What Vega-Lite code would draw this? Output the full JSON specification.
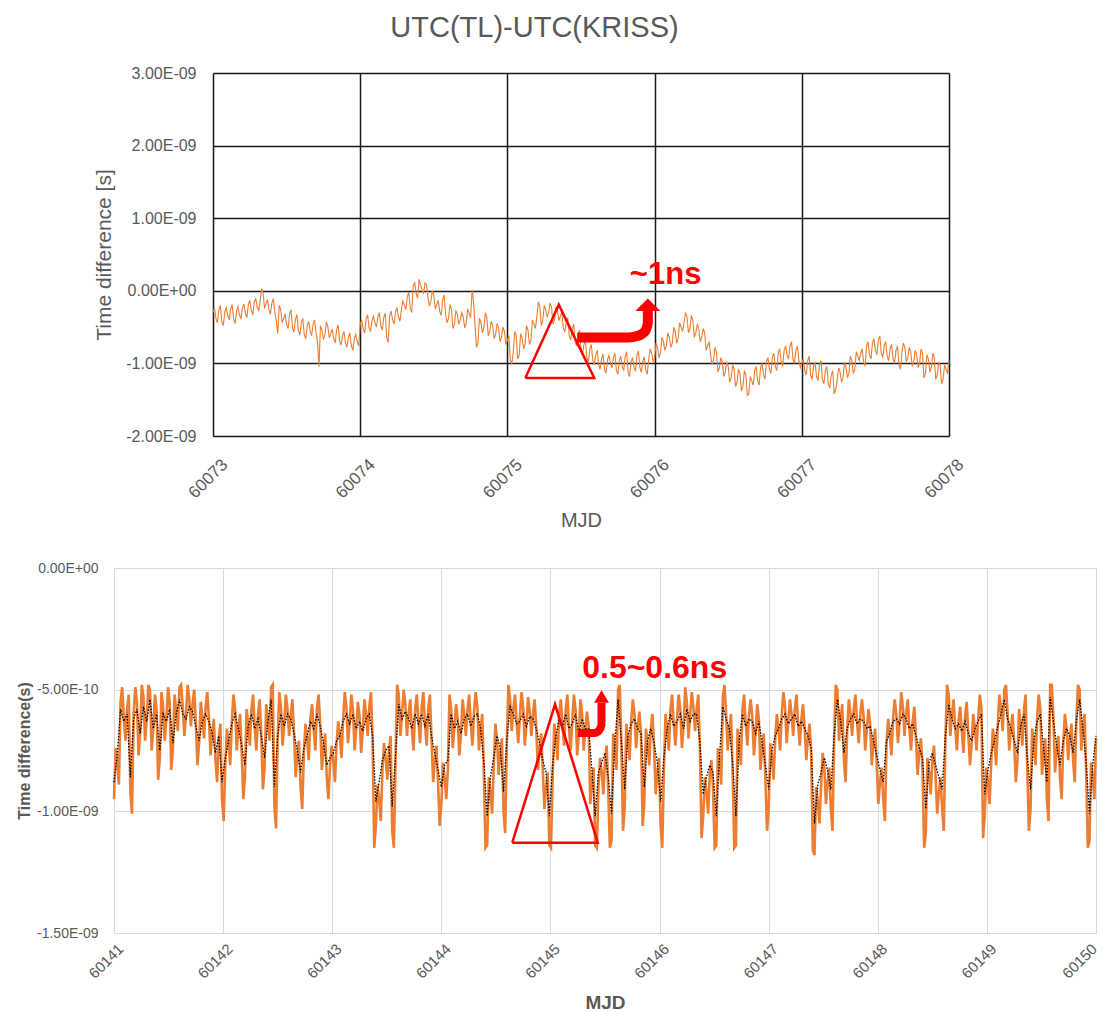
{
"$schema":"https://vega.github.io/schema/vega-lite/v6.json",
"background":"white",
"padding":{"left":16,"top":14,"right":0,"bottom":0},
"config":{"view":{"stroke":null},"font":"Liberation Sans"},
"bounds":"flush",
"spacing":132,
"datasets":{
"top":[
{"t":60073,"v":-3e-10},{"t":60073.02,"v":-3.8e-10},{"t":60073.04,"v":-2.6e-10},{"t":60073.06,"v":-4.2e-10},{"t":60073.08,"v":-2.9e-10},
{"t":60073.1,"v":-3.4e-10},{"t":60073.12,"v":-2.5e-10},{"t":60073.14,"v":-3.9e-10},{"t":60073.16,"v":-2.8e-10},{"t":60073.18,"v":-3.3e-10},
{"t":60073.2,"v":-2.4e-10},{"t":60073.22,"v":-3.1e-10},{"t":60073.24,"v":-1.9e-10},{"t":60073.26,"v":-2.7e-10},{"t":60073.28,"v":-1.6e-10},
{"t":60073.3,"v":-2.2e-10},{"t":60073.32,"v":-1.5e-10},{"t":60073.34,"v":-0.3e-10},{"t":60073.36,"v":-1.8e-10},{"t":60073.38,"v":-2.6e-10},
{"t":60073.4,"v":-1.7e-10},{"t":60073.42,"v":-3e-10},{"t":60073.44,"v":-5.9e-10},{"t":60073.46,"v":-2.6e-10},{"t":60073.48,"v":-3.8e-10},
{"t":60073.5,"v":-4.6e-10},{"t":60073.52,"v":-3.2e-10},{"t":60073.54,"v":-5.1e-10},{"t":60073.56,"v":-3.9e-10},{"t":60073.58,"v":-5.5e-10},
{"t":60073.6,"v":-4.4e-10},{"t":60073.62,"v":-6e-10},{"t":60073.64,"v":-4.8e-10},{"t":60073.66,"v":-5.6e-10},{"t":60073.68,"v":-4.6e-10},
{"t":60073.7,"v":-5.8e-10},{"t":60073.72,"v":-10.5e-10},{"t":60073.74,"v":-5.4e-10},{"t":60073.76,"v":-6.1e-10},{"t":60073.78,"v":-4.9e-10},
{"t":60073.8,"v":-5.9e-10},{"t":60073.82,"v":-6.6e-10},{"t":60073.84,"v":-5.3e-10},{"t":60073.86,"v":-6.9e-10},{"t":60073.88,"v":-6.2e-10},
{"t":60073.9,"v":-7.2e-10},{"t":60073.92,"v":-6.4e-10},{"t":60073.94,"v":-7.6e-10},{"t":60073.96,"v":-6.6e-10},{"t":60073.98,"v":-7e-10},
{"t":60074,"v":-4.6e-10},{"t":60074.02,"v":-5.2e-10},{"t":60074.04,"v":-3.9e-10},{"t":60074.06,"v":-5e-10},{"t":60074.08,"v":-4.1e-10},
{"t":60074.1,"v":-4.4e-10},{"t":60074.12,"v":-3.6e-10},{"t":60074.14,"v":-4.8e-10},{"t":60074.16,"v":-3.7e-10},{"t":60074.18,"v":-6.5e-10},
{"t":60074.2,"v":-3.4e-10},{"t":60074.22,"v":-4e-10},{"t":60074.24,"v":-2.9e-10},{"t":60074.26,"v":-3.6e-10},{"t":60074.28,"v":-2.5e-10},
{"t":60074.3,"v":-2e-10},{"t":60074.32,"v":-0.8e-10},{"t":60074.34,"v":-2.4e-10},{"t":60074.36,"v":0.6e-10},{"t":60074.38,"v":-0.4e-10},
{"t":60074.4,"v":1.6e-10},{"t":60074.42,"v":0.2e-10},{"t":60074.44,"v":1.1e-10},{"t":60074.46,"v":-0.8e-10},{"t":60074.48,"v":-1.5e-10},
{"t":60074.5,"v":-0.6e-10},{"t":60074.52,"v":-1.9e-10},{"t":60074.54,"v":-2.8e-10},{"t":60074.56,"v":-1.2e-10},{"t":60074.58,"v":-3.2e-10},
{"t":60074.6,"v":-3.8e-10},{"t":60074.62,"v":-2.5e-10},{"t":60074.64,"v":-4.6e-10},{"t":60074.66,"v":-3.3e-10},{"t":60074.68,"v":-4e-10},
{"t":60074.7,"v":-3.6e-10},{"t":60074.72,"v":-4.5e-10},{"t":60074.74,"v":-3.1e-10},{"t":60074.76,"v":0.1e-10},{"t":60074.78,"v":-4.8e-10},
{"t":60074.8,"v":-7.2e-10},{"t":60074.82,"v":-4.4e-10},{"t":60074.84,"v":-5.2e-10},{"t":60074.86,"v":-3.6e-10},{"t":60074.88,"v":-5.6e-10},
{"t":60074.9,"v":-4.8e-10},{"t":60074.92,"v":-6e-10},{"t":60074.94,"v":-5.1e-10},{"t":60074.96,"v":-6.4e-10},{"t":60074.98,"v":-5.6e-10},
{"t":60075,"v":-6.8e-10},{"t":60075.02,"v":-9.5e-10},{"t":60075.04,"v":-8.4e-10},{"t":60075.06,"v":-6.2e-10},{"t":60075.08,"v":-8.8e-10},
{"t":60075.1,"v":-6.5e-10},{"t":60075.12,"v":-7.4e-10},{"t":60075.14,"v":-5.4e-10},{"t":60075.16,"v":-6.8e-10},{"t":60075.18,"v":-4.6e-10},
{"t":60075.2,"v":-3.6e-10},{"t":60075.22,"v":-2.1e-10},{"t":60075.24,"v":-4.2e-10},{"t":60075.26,"v":-2.6e-10},{"t":60075.28,"v":-3e-10},
{"t":60075.3,"v":-2.3e-10},{"t":60075.32,"v":-4e-10},{"t":60075.34,"v":-2.8e-10},{"t":60075.36,"v":-3.5e-10},{"t":60075.38,"v":-5.1e-10},
{"t":60075.4,"v":-4.3e-10},{"t":60075.42,"v":-6.2e-10},{"t":60075.44,"v":-5.2e-10},{"t":60075.46,"v":-7e-10},{"t":60075.48,"v":-6e-10},
{"t":60075.5,"v":-8.1e-10},{"t":60075.52,"v":-7.4e-10},{"t":60075.54,"v":-9.2e-10},{"t":60075.56,"v":-8e-10},{"t":60075.58,"v":-9.6e-10},
{"t":60075.6,"v":-8.8e-10},{"t":60075.62,"v":-10.2e-10},{"t":60075.64,"v":-9.3e-10},{"t":60075.66,"v":-10.8e-10},{"t":60075.68,"v":-9.5e-10},
{"t":60075.7,"v":-10e-10},{"t":60075.72,"v":-9.2e-10},{"t":60075.74,"v":-10.9e-10},{"t":60075.76,"v":-9.6e-10},{"t":60075.78,"v":-10.4e-10},
{"t":60075.8,"v":-9e-10},{"t":60075.82,"v":-11.2e-10},{"t":60075.84,"v":-9.8e-10},{"t":60075.86,"v":-10.5e-10},{"t":60075.88,"v":-8.9e-10},
{"t":60075.9,"v":-10.6e-10},{"t":60075.92,"v":-9.7e-10},{"t":60075.94,"v":-10.9e-10},{"t":60075.96,"v":-9.4e-10},{"t":60075.98,"v":-8.6e-10},
{"t":60076,"v":-9.2e-10},{"t":60076.02,"v":-7.8e-10},{"t":60076.04,"v":-8.6e-10},{"t":60076.06,"v":-7e-10},{"t":60076.08,"v":-7.6e-10},
{"t":60076.1,"v":-6.4e-10},{"t":60076.12,"v":-7.2e-10},{"t":60076.14,"v":-5.6e-10},{"t":60076.16,"v":-6.6e-10},{"t":60076.18,"v":-5e-10},
{"t":60076.2,"v":-4.4e-10},{"t":60076.22,"v":-3.6e-10},{"t":60076.24,"v":-5.2e-10},{"t":60076.26,"v":-4e-10},{"t":60076.28,"v":-5.8e-10},
{"t":60076.3,"v":-5.2e-10},{"t":60076.32,"v":-6.4e-10},{"t":60076.34,"v":-5.8e-10},{"t":60076.36,"v":-7.6e-10},{"t":60076.38,"v":-8.8e-10},
{"t":60076.4,"v":-9.6e-10},{"t":60076.42,"v":-8.4e-10},{"t":60076.44,"v":-10.6e-10},{"t":60076.46,"v":-9.8e-10},{"t":60076.48,"v":-11.2e-10},
{"t":60076.5,"v":-10.4e-10},{"t":60076.52,"v":-12e-10},{"t":60076.54,"v":-10.8e-10},{"t":60076.56,"v":-12.6e-10},{"t":60076.58,"v":-11.4e-10},
{"t":60076.6,"v":-13.2e-10},{"t":60076.62,"v":-11.6e-10},{"t":60076.64,"v":-14.2e-10},{"t":60076.66,"v":-12.4e-10},{"t":60076.68,"v":-11e-10},
{"t":60076.7,"v":-12.4e-10},{"t":60076.72,"v":-10.6e-10},{"t":60076.74,"v":-11.6e-10},{"t":60076.76,"v":-9.8e-10},{"t":60076.78,"v":-10.8e-10},
{"t":60076.8,"v":-9.2e-10},{"t":60076.82,"v":-10.4e-10},{"t":60076.84,"v":-8.6e-10},{"t":60076.86,"v":-9.8e-10},{"t":60076.88,"v":-8.2e-10},
{"t":60076.9,"v":-8.8e-10},{"t":60076.92,"v":-7.6e-10},{"t":60076.94,"v":-9.4e-10},{"t":60076.96,"v":-8.2e-10},{"t":60076.98,"v":-9.6e-10},
{"t":60077,"v":-10e-10},{"t":60077.02,"v":-11e-10},{"t":60077.04,"v":-9.6e-10},{"t":60077.06,"v":-11.6e-10},{"t":60077.08,"v":-10.4e-10},
{"t":60077.1,"v":-11.8e-10},{"t":60077.12,"v":-10.2e-10},{"t":60077.14,"v":-12.2e-10},{"t":60077.16,"v":-11e-10},{"t":60077.18,"v":-12.8e-10},
{"t":60077.2,"v":-11.6e-10},{"t":60077.22,"v":-14.2e-10},{"t":60077.24,"v":-12.4e-10},{"t":60077.26,"v":-11.2e-10},{"t":60077.28,"v":-12e-10},
{"t":60077.3,"v":-10.4e-10},{"t":60077.32,"v":-11.4e-10},{"t":60077.34,"v":-9.6e-10},{"t":60077.36,"v":-10.8e-10},{"t":60077.38,"v":-9e-10},
{"t":60077.4,"v":-8.6e-10},{"t":60077.42,"v":-9.8e-10},{"t":60077.44,"v":-7.6e-10},{"t":60077.46,"v":-8.8e-10},{"t":60077.48,"v":-7.2e-10},
{"t":60077.5,"v":-8.2e-10},{"t":60077.52,"v":-6.8e-10},{"t":60077.54,"v":-8.6e-10},{"t":60077.56,"v":-7.6e-10},{"t":60077.58,"v":-9e-10},
{"t":60077.6,"v":-8e-10},{"t":60077.62,"v":-9.4e-10},{"t":60077.64,"v":-8.2e-10},{"t":60077.66,"v":-10.2e-10},{"t":60077.68,"v":-8.6e-10},
{"t":60077.7,"v":-7.8e-10},{"t":60077.72,"v":-9.2e-10},{"t":60077.74,"v":-8.4e-10},{"t":60077.76,"v":-9.8e-10},{"t":60077.78,"v":-8.8e-10},
{"t":60077.8,"v":-10e-10},{"t":60077.82,"v":-8.6e-10},{"t":60077.84,"v":-11.4e-10},{"t":60077.86,"v":-9.4e-10},{"t":60077.88,"v":-10.6e-10},
{"t":60077.9,"v":-9.2e-10},{"t":60077.92,"v":-11.6e-10},{"t":60077.94,"v":-10.4e-10},{"t":60077.96,"v":-12.2e-10},{"t":60077.98,"v":-10.8e-10},
{"t":60078,"v":-9.6e-10},
{"t":60073.01,"v":-2.4e-10},{"t":60073.03,"v":-4.4e-10},{"t":60073.05,"v":-2e-10},{"t":60073.07,"v":-4.8e-10},{"t":60073.09,"v":-2.3e-10},{"t":60073.11,"v":-4e-10},{"t":60073.13,"v":-1.9e-10},{"t":60073.15,"v":-4.5e-10},{"t":60073.17,"v":-2.2e-10},{"t":60073.19,"v":-3.9e-10},
{"t":60073.21,"v":-1.8e-10},{"t":60073.23,"v":-3.7e-10},{"t":60073.25,"v":-1.3e-10},{"t":60073.27,"v":-3.3e-10},{"t":60073.29,"v":-1e-10},{"t":60073.31,"v":-2.8e-10},{"t":60073.33,"v":0.3e-10},{"t":60073.35,"v":-2.4e-10},{"t":60073.37,"v":-1.2e-10},{"t":60073.39,"v":-3.2e-10},
{"t":60073.41,"v":-1.1e-10},{"t":60073.43,"v":-4.2e-10},{"t":60073.45,"v":-2e-10},{"t":60073.47,"v":-4.4e-10},{"t":60073.49,"v":-3.2e-10},{"t":60073.51,"v":-5.2e-10},{"t":60073.53,"v":-2.6e-10},{"t":60073.55,"v":-5.7e-10},{"t":60073.57,"v":-3.3e-10},{"t":60073.59,"v":-6.1e-10},
{"t":60073.61,"v":-3.8e-10},{"t":60073.63,"v":-6.6e-10},{"t":60073.65,"v":-4.2e-10},{"t":60073.67,"v":-6.2e-10},{"t":60073.69,"v":-4e-10},{"t":60073.71,"v":-7e-10},{"t":60073.73,"v":-4.8e-10},{"t":60073.75,"v":-6.7e-10},{"t":60073.77,"v":-4.3e-10},{"t":60073.79,"v":-6.5e-10},
{"t":60073.81,"v":-5.3e-10},{"t":60073.83,"v":-7.2e-10},{"t":60073.85,"v":-4.7e-10},{"t":60073.87,"v":-7.5e-10},{"t":60073.89,"v":-5.6e-10},{"t":60073.91,"v":-7.8e-10},{"t":60073.93,"v":-5.8e-10},{"t":60073.95,"v":-8.2e-10},{"t":60073.97,"v":-6e-10},{"t":60073.99,"v":-7.6e-10},
{"t":60074.01,"v":-4e-10},{"t":60074.03,"v":-5.8e-10},{"t":60074.05,"v":-3.3e-10},{"t":60074.07,"v":-5.6e-10},{"t":60074.09,"v":-3.5e-10},{"t":60074.11,"v":-5e-10},{"t":60074.13,"v":-3e-10},{"t":60074.15,"v":-5.4e-10},{"t":60074.17,"v":-3.1e-10},{"t":60074.19,"v":-7.1e-10},
{"t":60074.21,"v":-2.8e-10},{"t":60074.23,"v":-4.6e-10},{"t":60074.25,"v":-2.3e-10},{"t":60074.27,"v":-4.2e-10},{"t":60074.29,"v":-1.4e-10},{"t":60074.31,"v":-2.6e-10},{"t":60074.33,"v":-0.2e-10},{"t":60074.35,"v":-3e-10},{"t":60074.37,"v":1.2e-10},{"t":60074.39,"v":-1e-10},
{"t":60074.41,"v":0.8e-10},{"t":60074.43,"v":-0.4e-10},{"t":60074.45,"v":0.9e-10},{"t":60074.47,"v":-2.1e-10},{"t":60074.49,"v":0},{"t":60074.51,"v":-2.5e-10},{"t":60074.53,"v":-1.3e-10},{"t":60074.55,"v":-3.4e-10},{"t":60074.57,"v":-0.6e-10},{"t":60074.59,"v":-4.4e-10},
{"t":60074.61,"v":-1.9e-10},{"t":60074.63,"v":-5.2e-10},{"t":60074.65,"v":-2.7e-10},{"t":60074.67,"v":-4.6e-10},{"t":60074.69,"v":-3e-10},{"t":60074.71,"v":-5.1e-10},{"t":60074.73,"v":-2.5e-10},{"t":60074.75,"v":-3.7e-10},{"t":60074.77,"v":-1.5e-10},{"t":60074.79,"v":-7.8e-10},
{"t":60074.81,"v":-3.8e-10},{"t":60074.83,"v":-5.8e-10},{"t":60074.85,"v":-3e-10},{"t":60074.87,"v":-6.2e-10},{"t":60074.89,"v":-4.2e-10},{"t":60074.91,"v":-6.6e-10},{"t":60074.93,"v":-4.5e-10},{"t":60074.95,"v":-7e-10},{"t":60074.97,"v":-5e-10},{"t":60074.99,"v":-7.4e-10},
{"t":60075.01,"v":-6.2e-10},{"t":60075.03,"v":-10.1e-10},{"t":60075.05,"v":-5.6e-10},{"t":60075.07,"v":-9.4e-10},{"t":60075.09,"v":-5.9e-10},{"t":60075.11,"v":-8e-10},{"t":60075.13,"v":-4.8e-10},{"t":60075.15,"v":-7.4e-10},{"t":60075.17,"v":-4e-10},{"t":60075.19,"v":-5.2e-10},
{"t":60075.21,"v":-1.5e-10},{"t":60075.23,"v":-4.8e-10},{"t":60075.25,"v":-2e-10},{"t":60075.27,"v":-3.6e-10},{"t":60075.29,"v":-1.7e-10},{"t":60075.31,"v":-4.6e-10},{"t":60075.33,"v":-2.2e-10},{"t":60075.35,"v":-4.1e-10},{"t":60075.37,"v":-2.9e-10},{"t":60075.39,"v":-5.7e-10},
{"t":60075.41,"v":-3.7e-10},{"t":60075.43,"v":-6.8e-10},{"t":60075.45,"v":-4.6e-10},{"t":60075.47,"v":-7.6e-10},{"t":60075.49,"v":-5.4e-10},{"t":60075.51,"v":-8.7e-10},{"t":60075.53,"v":-6.8e-10},{"t":60075.55,"v":-9.8e-10},{"t":60075.57,"v":-7.4e-10},{"t":60075.59,"v":-10.2e-10},
{"t":60075.61,"v":-8.2e-10},{"t":60075.63,"v":-10.8e-10},{"t":60075.65,"v":-8.7e-10},{"t":60075.67,"v":-11.4e-10},{"t":60075.69,"v":-8.9e-10},{"t":60075.71,"v":-10.6e-10},{"t":60075.73,"v":-8.6e-10},{"t":60075.75,"v":-11.5e-10},{"t":60075.77,"v":-9e-10},{"t":60075.79,"v":-11e-10},
{"t":60075.81,"v":-8.4e-10},{"t":60075.83,"v":-11.8e-10},{"t":60075.85,"v":-9.2e-10},{"t":60075.87,"v":-11.1e-10},{"t":60075.89,"v":-8.3e-10},{"t":60075.91,"v":-11.2e-10},{"t":60075.93,"v":-9.1e-10},{"t":60075.95,"v":-11.5e-10},{"t":60075.97,"v":-8e-10},{"t":60075.99,"v":-9.8e-10},
{"t":60076.01,"v":-7.2e-10},{"t":60076.03,"v":-9.2e-10},{"t":60076.05,"v":-6.4e-10},{"t":60076.07,"v":-8.2e-10},{"t":60076.09,"v":-5.8e-10},{"t":60076.11,"v":-7.8e-10},{"t":60076.13,"v":-5e-10},{"t":60076.15,"v":-7.2e-10},{"t":60076.17,"v":-4.4e-10},{"t":60076.19,"v":-5.6e-10},
{"t":60076.21,"v":-3e-10},{"t":60076.23,"v":-5.8e-10},{"t":60076.25,"v":-3.4e-10},{"t":60076.27,"v":-6.4e-10},{"t":60076.29,"v":-4.6e-10},{"t":60076.31,"v":-7e-10},{"t":60076.33,"v":-5.2e-10},{"t":60076.35,"v":-8.2e-10},{"t":60076.37,"v":-7e-10},{"t":60076.39,"v":-10.2e-10},
{"t":60076.41,"v":-7.8e-10},{"t":60076.43,"v":-11.2e-10},{"t":60076.45,"v":-9.2e-10},{"t":60076.47,"v":-11.8e-10},{"t":60076.49,"v":-9.8e-10},{"t":60076.51,"v":-12.6e-10},{"t":60076.53,"v":-10.2e-10},{"t":60076.55,"v":-13.2e-10},{"t":60076.57,"v":-10.8e-10},{"t":60076.59,"v":-13.8e-10},
{"t":60076.61,"v":-11e-10},{"t":60076.63,"v":-14.4e-10},{"t":60076.65,"v":-11.8e-10},{"t":60076.67,"v":-13e-10},{"t":60076.69,"v":-10.4e-10},{"t":60076.71,"v":-13e-10},{"t":60076.73,"v":-10e-10},{"t":60076.75,"v":-12.2e-10},{"t":60076.77,"v":-9.2e-10},{"t":60076.79,"v":-11.4e-10},
{"t":60076.81,"v":-8.6e-10},{"t":60076.83,"v":-11e-10},{"t":60076.85,"v":-8e-10},{"t":60076.87,"v":-10.4e-10},{"t":60076.89,"v":-7.6e-10},{"t":60076.91,"v":-9.4e-10},{"t":60076.93,"v":-7e-10},{"t":60076.95,"v":-10e-10},{"t":60076.97,"v":-7.6e-10},{"t":60076.99,"v":-10.6e-10},
{"t":60077.01,"v":-9.4e-10},{"t":60077.03,"v":-11.6e-10},{"t":60077.05,"v":-9e-10},{"t":60077.07,"v":-12.2e-10},{"t":60077.09,"v":-9.8e-10},{"t":60077.11,"v":-12.4e-10},{"t":60077.13,"v":-9.6e-10},{"t":60077.15,"v":-12.8e-10},{"t":60077.17,"v":-10.4e-10},{"t":60077.19,"v":-13.4e-10},
{"t":60077.21,"v":-11e-10},{"t":60077.23,"v":-13.6e-10},{"t":60077.25,"v":-10.6e-10},{"t":60077.27,"v":-12.6e-10},{"t":60077.29,"v":-9.8e-10},{"t":60077.31,"v":-12e-10},{"t":60077.33,"v":-9e-10},{"t":60077.35,"v":-11.4e-10},{"t":60077.37,"v":-8.4e-10},{"t":60077.39,"v":-9.6e-10},
{"t":60077.41,"v":-8e-10},{"t":60077.43,"v":-10.4e-10},{"t":60077.45,"v":-7e-10},{"t":60077.47,"v":-9.4e-10},{"t":60077.49,"v":-6.6e-10},{"t":60077.51,"v":-8.8e-10},{"t":60077.53,"v":-6.2e-10},{"t":60077.55,"v":-9.2e-10},{"t":60077.57,"v":-7e-10},{"t":60077.59,"v":-9.6e-10},
{"t":60077.61,"v":-7.4e-10},{"t":60077.63,"v":-10e-10},{"t":60077.65,"v":-7.6e-10},{"t":60077.67,"v":-10.8e-10},{"t":60077.69,"v":-7.2e-10},{"t":60077.71,"v":-9.8e-10},{"t":60077.73,"v":-7.8e-10},{"t":60077.75,"v":-10.4e-10},{"t":60077.77,"v":-8.2e-10},{"t":60077.79,"v":-10.6e-10},
{"t":60077.81,"v":-8e-10},{"t":60077.83,"v":-12e-10},{"t":60077.85,"v":-8.8e-10},{"t":60077.87,"v":-11.2e-10},{"t":60077.89,"v":-8.6e-10},{"t":60077.91,"v":-12.2e-10},{"t":60077.93,"v":-9.8e-10},{"t":60077.95,"v":-12.8e-10},{"t":60077.97,"v":-10.2e-10},{"t":60077.99,"v":-11.4e-10}
],
"bottom":[
{"t":60141,"o":-9.5e-10,"d":-8.8e-10},{"t":60141.03,"o":-8e-10,"d":-7.7e-10},{"t":60141.06,"o":-5.5e-10,"d":-5.8e-10},{"t":60141.09,"o":-6.2e-10,"d":-6.3e-10},{"t":60141.12,"o":-5.8e-10,"d":-6e-10},
{"t":60141.15,"o":-9.2e-10,"d":-8.6e-10},{"t":60141.18,"o":-6e-10,"d":-6.2e-10},{"t":60141.21,"o":-5.5e-10,"d":-5.8e-10},{"t":60141.24,"o":-6.8e-10,"d":-6.8e-10},{"t":60141.27,"o":-5.3e-10,"d":-5.7e-10},
{"t":60141.3,"o":-6.2e-10,"d":-6.3e-10},{"t":60141.33,"o":-5e-10,"d":-5.4e-10},{"t":60141.36,"o":-6.6e-10,"d":-6.6e-10},{"t":60141.39,"o":-5.8e-10,"d":-6e-10},{"t":60141.42,"o":-7.8e-10,"d":-7.5e-10},
{"t":60141.45,"o":-5.7e-10,"d":-6e-10},{"t":60141.48,"o":-6.2e-10,"d":-6.3e-10},{"t":60141.51,"o":-5.5e-10,"d":-5.8e-10},{"t":60141.54,"o":-7.4e-10,"d":-7.2e-10},{"t":60141.57,"o":-5.8e-10,"d":-6e-10},
{"t":60141.6,"o":-4.9e-10,"d":-5.4e-10},{"t":60141.63,"o":-5.7e-10,"d":-6e-10},{"t":60141.66,"o":-6e-10,"d":-6.2e-10},{"t":60141.69,"o":-5.4e-10,"d":-5.7e-10},{"t":60141.72,"o":-5.6e-10,"d":-5.9e-10},
{"t":60141.75,"o":-6.4e-10,"d":-6.5e-10},{"t":60141.78,"o":-7.2e-10,"d":-7.1e-10},{"t":60141.81,"o":-6.1e-10,"d":-6.3e-10},{"t":60141.84,"o":-5.7e-10,"d":-6e-10},{"t":60141.87,"o":-6.2e-10,"d":-6.3e-10},
{"t":60141.9,"o":-6.8e-10,"d":-6.8e-10},{"t":60141.93,"o":-7.9e-10,"d":-7.6e-10},{"t":60141.96,"o":-7e-10,"d":-6.9e-10},{"t":60141.99,"o":-9.5e-10,"d":-8.8e-10},{"t":60142.02,"o":-8.1e-10,"d":-7.8e-10},
{"t":60142.05,"o":-7.2e-10,"d":-7.1e-10},{"t":60142.08,"o":-6.3e-10,"d":-6.4e-10},{"t":60142.11,"o":-5.8e-10,"d":-6e-10},{"t":60142.14,"o":-6.6e-10,"d":-6.6e-10},{"t":60142.17,"o":-7.5e-10,"d":-7.3e-10},
{"t":60142.2,"o":-8.6e-10,"d":-8.1e-10},{"t":60142.23,"o":-6.4e-10,"d":-6.5e-10},{"t":60142.26,"o":-5.8e-10,"d":-6e-10},{"t":60142.29,"o":-6.6e-10,"d":-6.6e-10},{"t":60142.32,"o":-6e-10,"d":-6.2e-10},
{"t":60142.35,"o":-6.9e-10,"d":-6.9e-10},{"t":60142.38,"o":-8.2e-10,"d":-7.8e-10},{"t":60142.41,"o":-6.2e-10,"d":-6.3e-10},{"t":60142.44,"o":-4.9e-10,"d":-5.4e-10},{"t":60142.47,"o":-9.8e-10,"d":-9e-10},
{"t":60142.5,"o":-7e-10,"d":-6.9e-10},{"t":60142.53,"o":-5.7e-10,"d":-6e-10},{"t":60142.56,"o":-6.4e-10,"d":-6.5e-10},{"t":60142.59,"o":-5.8e-10,"d":-6e-10},{"t":60142.62,"o":-6e-10,"d":-6.2e-10},
{"t":60142.65,"o":-6.8e-10,"d":-6.8e-10},{"t":60142.68,"o":-7.7e-10,"d":-7.5e-10},{"t":60142.71,"o":-9e-10,"d":-8.4e-10},{"t":60142.74,"o":-7.6e-10,"d":-7.4e-10},{"t":60142.77,"o":-7e-10,"d":-6.9e-10},
{"t":60142.8,"o":-6.2e-10,"d":-6.3e-10},{"t":60142.83,"o":-6.6e-10,"d":-6.6e-10},{"t":60142.86,"o":-5.8e-10,"d":-6e-10},{"t":60142.89,"o":-6.4e-10,"d":-6.5e-10},{"t":60142.92,"o":-7.4e-10,"d":-7.2e-10},
{"t":60142.95,"o":-8.6e-10,"d":-8.1e-10},{"t":60142.98,"o":-8.1e-10,"d":-7.8e-10},{"t":60143.01,"o":-7.9e-10,"d":-7.6e-10},{"t":60143.04,"o":-7.2e-10,"d":-7.1e-10},{"t":60143.07,"o":-6.9e-10,"d":-6.9e-10},
{"t":60143.1,"o":-6.2e-10,"d":-6.3e-10},{"t":60143.13,"o":-5.7e-10,"d":-6e-10},{"t":60143.16,"o":-6.3e-10,"d":-6.4e-10},{"t":60143.19,"o":-5.8e-10,"d":-6e-10},{"t":60143.22,"o":-6.6e-10,"d":-6.6e-10},
{"t":60143.25,"o":-6.1e-10,"d":-6.3e-10},{"t":60143.28,"o":-6.7e-10,"d":-6.7e-10},{"t":60143.31,"o":-6e-10,"d":-6.2e-10},{"t":60143.34,"o":-5.7e-10,"d":-6e-10},{"t":60143.37,"o":-7e-10,"d":-6.9e-10},
{"t":60143.4,"o":-10.6e-10,"d":-9.6e-10},{"t":60143.43,"o":-9.5e-10,"d":-8.8e-10},{"t":60143.46,"o":-8.3e-10,"d":-7.9e-10},{"t":60143.49,"o":-7.8e-10,"d":-7.5e-10},{"t":60143.52,"o":-7.5e-10,"d":-7.3e-10},
{"t":60143.55,"o":-10.8e-10,"d":-9.8e-10},{"t":60143.58,"o":-8e-10,"d":-7.7e-10},{"t":60143.61,"o":-5.2e-10,"d":-5.6e-10},{"t":60143.64,"o":-6e-10,"d":-6.2e-10},{"t":60143.67,"o":-5.6e-10,"d":-5.9e-10},
{"t":60143.7,"o":-6e-10,"d":-6.2e-10},{"t":60143.73,"o":-6.6e-10,"d":-6.6e-10},{"t":60143.76,"o":-5.8e-10,"d":-6e-10},{"t":60143.79,"o":-6.3e-10,"d":-6.4e-10},{"t":60143.82,"o":-5.7e-10,"d":-6e-10},
{"t":60143.85,"o":-6.4e-10,"d":-6.5e-10},{"t":60143.88,"o":-5.8e-10,"d":-6e-10},{"t":60143.91,"o":-7e-10,"d":-6.9e-10},{"t":60143.94,"o":-7.9e-10,"d":-7.6e-10},{"t":60143.97,"o":-8.8e-10,"d":-8.3e-10},
{"t":60144,"o":-9.7e-10,"d":-9e-10},{"t":60144.03,"o":-8.6e-10,"d":-8.1e-10},{"t":60144.06,"o":-8.3e-10,"d":-7.9e-10},{"t":60144.09,"o":-5.8e-10,"d":-6e-10},{"t":60144.12,"o":-6.5e-10,"d":-6.6e-10},
{"t":60144.15,"o":-6.2e-10,"d":-6.3e-10},{"t":60144.18,"o":-6.8e-10,"d":-6.8e-10},{"t":60144.21,"o":-6e-10,"d":-6.2e-10},{"t":60144.24,"o":-5.8e-10,"d":-6e-10},{"t":60144.27,"o":-6.4e-10,"d":-6.5e-10},
{"t":60144.3,"o":-5.9e-10,"d":-6.1e-10},{"t":60144.33,"o":-5.7e-10,"d":-6e-10},{"t":60144.36,"o":-6.6e-10,"d":-6.6e-10},{"t":60144.39,"o":-8.4e-10,"d":-8e-10},{"t":60144.42,"o":-11.4e-10,"d":-10.2e-10},
{"t":60144.45,"o":-9.2e-10,"d":-8.6e-10},{"t":60144.48,"o":-8.2e-10,"d":-7.8e-10},{"t":60144.51,"o":-7e-10,"d":-6.9e-10},{"t":60144.54,"o":-7.6e-10,"d":-7.4e-10},{"t":60144.57,"o":-10e-10,"d":-9.2e-10},
{"t":60144.6,"o":-7.2e-10,"d":-7.1e-10},{"t":60144.63,"o":-5.4e-10,"d":-5.7e-10},{"t":60144.66,"o":-5.8e-10,"d":-6e-10},{"t":60144.69,"o":-6.3e-10,"d":-6.4e-10},{"t":60144.72,"o":-6.1e-10,"d":-6.3e-10},
{"t":60144.75,"o":-5.7e-10,"d":-6e-10},{"t":60144.78,"o":-6.4e-10,"d":-6.5e-10},{"t":60144.81,"o":-5.9e-10,"d":-6.1e-10},{"t":60144.84,"o":-6e-10,"d":-6.2e-10},{"t":60144.87,"o":-6.6e-10,"d":-6.6e-10},
{"t":60144.9,"o":-7.4e-10,"d":-7.2e-10},{"t":60144.93,"o":-8.3e-10,"d":-7.9e-10},{"t":60144.96,"o":-9e-10,"d":-8.4e-10},{"t":60144.99,"o":-11.4e-10,"d":-10.2e-10},{"t":60145.02,"o":-8.6e-10,"d":-8.1e-10},
{"t":60145.05,"o":-7e-10,"d":-6.9e-10},{"t":60145.08,"o":-6e-10,"d":-6.2e-10},{"t":60145.11,"o":-6.4e-10,"d":-6.5e-10},{"t":60145.14,"o":-5.8e-10,"d":-6e-10},{"t":60145.17,"o":-6.6e-10,"d":-6.6e-10},
{"t":60145.2,"o":-6.3e-10,"d":-6.4e-10},{"t":60145.23,"o":-5.8e-10,"d":-6e-10},{"t":60145.26,"o":-6.8e-10,"d":-6.8e-10},{"t":60145.29,"o":-6e-10,"d":-6.2e-10},{"t":60145.32,"o":-6.6e-10,"d":-6.6e-10},
{"t":60145.35,"o":-6.5e-10,"d":-6.6e-10},{"t":60145.38,"o":-8.8e-10,"d":-8.3e-10},{"t":60145.41,"o":-11.4e-10,"d":-10.2e-10},{"t":60145.44,"o":-9e-10,"d":-8.4e-10},{"t":60145.47,"o":-8.4e-10,"d":-8e-10},
{"t":60145.5,"o":-7.9e-10,"d":-7.6e-10},{"t":60145.53,"o":-9.2e-10,"d":-8.6e-10},{"t":60145.56,"o":-11.2e-10,"d":-10.1e-10},{"t":60145.59,"o":-7.4e-10,"d":-7.2e-10},{"t":60145.62,"o":-5e-10,"d":-5.4e-10},
{"t":60145.65,"o":-7.2e-10,"d":-7.1e-10},{"t":60145.68,"o":-9.9e-10,"d":-9.1e-10},{"t":60145.71,"o":-7e-10,"d":-6.9e-10},{"t":60145.74,"o":-6.3e-10,"d":-6.4e-10},{"t":60145.77,"o":-6e-10,"d":-6.2e-10},
{"t":60145.8,"o":-6.5e-10,"d":-6.6e-10},{"t":60145.83,"o":-6.8e-10,"d":-6.8e-10},{"t":60145.86,"o":-9.7e-10,"d":-9e-10},{"t":60145.89,"o":-7.2e-10,"d":-7.1e-10},{"t":60145.92,"o":-6.6e-10,"d":-6.6e-10},
{"t":60145.95,"o":-7.4e-10,"d":-7.2e-10},{"t":60145.98,"o":-8.4e-10,"d":-8e-10},{"t":60146.01,"o":-10.6e-10,"d":-9.6e-10},{"t":60146.04,"o":-8.2e-10,"d":-7.8e-10},{"t":60146.07,"o":-6.6e-10,"d":-6.6e-10},
{"t":60146.1,"o":-5.8e-10,"d":-6e-10},{"t":60146.13,"o":-6.4e-10,"d":-6.5e-10},{"t":60146.16,"o":-6.2e-10,"d":-6.3e-10},{"t":60146.19,"o":-5.8e-10,"d":-6e-10},{"t":60146.22,"o":-6.5e-10,"d":-6.6e-10},
{"t":60146.25,"o":-5.5e-10,"d":-5.8e-10},{"t":60146.28,"o":-6.1e-10,"d":-6.3e-10},{"t":60146.31,"o":-5.7e-10,"d":-6e-10},{"t":60146.34,"o":-5.8e-10,"d":-6e-10},{"t":60146.37,"o":-7.4e-10,"d":-7.2e-10},
{"t":60146.4,"o":-10.2e-10,"d":-9.3e-10},{"t":60146.43,"o":-9.2e-10,"d":-8.6e-10},{"t":60146.46,"o":-8.5e-10,"d":-8.1e-10},{"t":60146.49,"o":-9e-10,"d":-8.4e-10},{"t":60146.52,"o":-11.4e-10,"d":-10.2e-10},
{"t":60146.55,"o":-8e-10,"d":-7.7e-10},{"t":60146.58,"o":-5.3e-10,"d":-5.7e-10},{"t":60146.61,"o":-6e-10,"d":-6.2e-10},{"t":60146.64,"o":-6.6e-10,"d":-6.6e-10},{"t":60146.67,"o":-8.4e-10,"d":-8e-10},
{"t":60146.7,"o":-11.4e-10,"d":-10.2e-10},{"t":60146.73,"o":-7.2e-10,"d":-7.1e-10},{"t":60146.76,"o":-5.8e-10,"d":-6e-10},{"t":60146.79,"o":-6.4e-10,"d":-6.5e-10},{"t":60146.82,"o":-6e-10,"d":-6.2e-10},
{"t":60146.85,"o":-6.1e-10,"d":-6.3e-10},{"t":60146.88,"o":-6.8e-10,"d":-6.8e-10},{"t":60146.91,"o":-6.2e-10,"d":-6.3e-10},{"t":60146.94,"o":-7.4e-10,"d":-7.2e-10},{"t":60146.97,"o":-8.6e-10,"d":-8.1e-10},
{"t":60147,"o":-9.9e-10,"d":-9.1e-10},{"t":60147.03,"o":-7.8e-10,"d":-7.5e-10},{"t":60147.06,"o":-7e-10,"d":-6.9e-10},{"t":60147.09,"o":-6.6e-10,"d":-6.6e-10},{"t":60147.12,"o":-6e-10,"d":-6.2e-10},
{"t":60147.15,"o":-5.7e-10,"d":-6e-10},{"t":60147.18,"o":-6.3e-10,"d":-6.4e-10},{"t":60147.21,"o":-6e-10,"d":-6.2e-10},{"t":60147.24,"o":-5.8e-10,"d":-6e-10},{"t":60147.27,"o":-6.4e-10,"d":-6.5e-10},
{"t":60147.3,"o":-6.2e-10,"d":-6.3e-10},{"t":60147.33,"o":-6.6e-10,"d":-6.6e-10},{"t":60147.36,"o":-7e-10,"d":-6.9e-10},{"t":60147.39,"o":-7.6e-10,"d":-7.4e-10},{"t":60147.42,"o":-11.8e-10,"d":-10.5e-10},
{"t":60147.45,"o":-9.6e-10,"d":-8.9e-10},{"t":60147.48,"o":-9e-10,"d":-8.4e-10},{"t":60147.51,"o":-8.2e-10,"d":-7.8e-10},{"t":60147.54,"o":-8.8e-10,"d":-8.3e-10},{"t":60147.57,"o":-9.9e-10,"d":-9.1e-10},
{"t":60147.6,"o":-7e-10,"d":-6.9e-10},{"t":60147.63,"o":-5e-10,"d":-5.4e-10},{"t":60147.66,"o":-6.2e-10,"d":-6.3e-10},{"t":60147.69,"o":-7.9e-10,"d":-7.6e-10},{"t":60147.72,"o":-6.6e-10,"d":-6.6e-10},
{"t":60147.75,"o":-6e-10,"d":-6.2e-10},{"t":60147.78,"o":-5.8e-10,"d":-6e-10},{"t":60147.81,"o":-6.3e-10,"d":-6.4e-10},{"t":60147.84,"o":-6e-10,"d":-6.2e-10},{"t":60147.87,"o":-6.1e-10,"d":-6.3e-10},
{"t":60147.9,"o":-6.6e-10,"d":-6.6e-10},{"t":60147.93,"o":-6.4e-10,"d":-6.5e-10},{"t":60147.96,"o":-7.2e-10,"d":-7.1e-10},{"t":60147.99,"o":-8e-10,"d":-7.7e-10},{"t":60148.02,"o":-8.8e-10,"d":-8.3e-10},
{"t":60148.05,"o":-9.5e-10,"d":-8.8e-10},{"t":60148.08,"o":-7.2e-10,"d":-7.1e-10},{"t":60148.11,"o":-6.8e-10,"d":-6.8e-10},{"t":60148.14,"o":-6.2e-10,"d":-6.3e-10},{"t":60148.17,"o":-6e-10,"d":-6.2e-10},
{"t":60148.2,"o":-6.3e-10,"d":-6.4e-10},{"t":60148.23,"o":-5.7e-10,"d":-6e-10},{"t":60148.26,"o":-6e-10,"d":-6.2e-10},{"t":60148.29,"o":-6.6e-10,"d":-6.6e-10},{"t":60148.32,"o":-6.3e-10,"d":-6.4e-10},
{"t":60148.35,"o":-7e-10,"d":-6.9e-10},{"t":60148.38,"o":-7.6e-10,"d":-7.4e-10},{"t":60148.41,"o":-8.2e-10,"d":-7.8e-10},{"t":60148.44,"o":-10.9e-10,"d":-9.9e-10},{"t":60148.47,"o":-8.4e-10,"d":-8e-10},
{"t":60148.5,"o":-7.9e-10,"d":-7.6e-10},{"t":60148.53,"o":-8.6e-10,"d":-8.1e-10},{"t":60148.56,"o":-9.2e-10,"d":-8.6e-10},{"t":60148.59,"o":-9.9e-10,"d":-9.1e-10},{"t":60148.62,"o":-7e-10,"d":-6.9e-10},
{"t":60148.65,"o":-5.2e-10,"d":-5.6e-10},{"t":60148.68,"o":-6e-10,"d":-6.2e-10},{"t":60148.71,"o":-6.6e-10,"d":-6.6e-10},{"t":60148.74,"o":-6.3e-10,"d":-6.4e-10},{"t":60148.77,"o":-6.7e-10,"d":-6.7e-10},
{"t":60148.8,"o":-6.1e-10,"d":-6.3e-10},{"t":60148.83,"o":-6.8e-10,"d":-6.8e-10},{"t":60148.86,"o":-7.2e-10,"d":-7.1e-10},{"t":60148.89,"o":-6.6e-10,"d":-6.6e-10},{"t":60148.92,"o":-6.2e-10,"d":-6.3e-10},
{"t":60148.95,"o":-5.8e-10,"d":-6e-10},{"t":60148.98,"o":-10.2e-10,"d":-9.3e-10},{"t":60149.01,"o":-8.8e-10,"d":-8.3e-10},{"t":60149.04,"o":-7.9e-10,"d":-7.6e-10},{"t":60149.07,"o":-7.2e-10,"d":-7.1e-10},
{"t":60149.1,"o":-6.4e-10,"d":-6.5e-10},{"t":60149.13,"o":-5.8e-10,"d":-6e-10},{"t":60149.16,"o":-5e-10,"d":-5.4e-10},{"t":60149.19,"o":-6e-10,"d":-6.2e-10},{"t":60149.22,"o":-6.6e-10,"d":-6.6e-10},
{"t":60149.25,"o":-7.2e-10,"d":-7.1e-10},{"t":60149.28,"o":-7.9e-10,"d":-7.6e-10},{"t":60149.31,"o":-6.4e-10,"d":-6.5e-10},{"t":60149.34,"o":-5.8e-10,"d":-6e-10},{"t":60149.37,"o":-8.2e-10,"d":-7.8e-10},
{"t":60149.4,"o":-9.9e-10,"d":-9.1e-10},{"t":60149.43,"o":-7.2e-10,"d":-7.1e-10},{"t":60149.46,"o":-6.2e-10,"d":-6.3e-10},{"t":60149.49,"o":-5.8e-10,"d":-6e-10},{"t":60149.52,"o":-7.6e-10,"d":-7.4e-10},
{"t":60149.55,"o":-9.5e-10,"d":-8.8e-10},{"t":60149.58,"o":-4.8e-10,"d":-5.3e-10},{"t":60149.61,"o":-6.2e-10,"d":-6.3e-10},{"t":60149.64,"o":-7.5e-10,"d":-7.3e-10},{"t":60149.67,"o":-8.6e-10,"d":-8.1e-10},
{"t":60149.7,"o":-7.2e-10,"d":-7.1e-10},{"t":60149.73,"o":-6.6e-10,"d":-6.6e-10},{"t":60149.76,"o":-7e-10,"d":-6.9e-10},{"t":60149.79,"o":-7.9e-10,"d":-7.6e-10},{"t":60149.82,"o":-6.2e-10,"d":-6.3e-10},
{"t":60149.85,"o":-5e-10,"d":-5.4e-10},{"t":60149.88,"o":-6.6e-10,"d":-6.6e-10},{"t":60149.91,"o":-8.4e-10,"d":-8e-10},{"t":60149.94,"o":-11.2e-10,"d":-10.1e-10},{"t":60149.97,"o":-8.6e-10,"d":-8.1e-10},
{"t":60150,"o":-7e-10,"d":-6.9e-10},
{"t":60141.015,"o":-7.4e-10},{"t":60141.045,"o":-8.9e-10},{"t":60141.075,"o":-4.9e-10},{"t":60141.105,"o":-7.1e-10},{"t":60141.135,"o":-5.2e-10},{"t":60141.165,"o":-10.1e-10},{"t":60141.195,"o":-4.9e-10},{"t":60141.225,"o":-7.7e-10},{"t":60141.255,"o":-4.8e-10},{"t":60141.285,"o":-7.1e-10},
{"t":60141.315,"o":-4.8e-10},{"t":60141.345,"o":-7.5e-10},{"t":60141.375,"o":-5.2e-10},{"t":60141.405,"o":-8.7e-10},{"t":60141.435,"o":-5.1e-10},{"t":60141.465,"o":-7.1e-10},{"t":60141.495,"o":-4.9e-10},{"t":60141.525,"o":-8.3e-10},{"t":60141.555,"o":-5.2e-10},{"t":60141.585,"o":-6.7e-10},
{"t":60141.615,"o":-4.8e-10},{"t":60141.645,"o":-6.9e-10},{"t":60141.675,"o":-4.8e-10},{"t":60141.705,"o":-6.5e-10},{"t":60141.735,"o":-5e-10},{"t":60141.765,"o":-8.1e-10},{"t":60141.795,"o":-5.5e-10},{"t":60141.825,"o":-7e-10},{"t":60141.855,"o":-5.1e-10},{"t":60141.885,"o":-7.7e-10},
{"t":60141.915,"o":-6.2e-10},{"t":60141.945,"o":-8.8e-10},{"t":60141.975,"o":-6.4e-10},{"t":60142.005,"o":-10.4e-10},{"t":60142.035,"o":-6.6e-10},{"t":60142.065,"o":-8.1e-10},{"t":60142.095,"o":-5.2e-10},{"t":60142.125,"o":-7.5e-10},{"t":60142.155,"o":-6e-10},{"t":60142.185,"o":-9.5e-10},
{"t":60142.215,"o":-5.8e-10},{"t":60142.245,"o":-7.3e-10},{"t":60142.275,"o":-5.2e-10},{"t":60142.305,"o":-7.5e-10},{"t":60142.335,"o":-5.4e-10},{"t":60142.365,"o":-9.1e-10},{"t":60142.395,"o":-5.6e-10},{"t":60142.425,"o":-7.1e-10},{"t":60142.455,"o":-4.8e-10},{"t":60142.485,"o":-10.7e-10},
{"t":60142.515,"o":-5.1e-10},{"t":60142.545,"o":-7.3e-10},{"t":60142.575,"o":-5.2e-10},{"t":60142.605,"o":-6.9e-10},{"t":60142.635,"o":-5.4e-10},{"t":60142.665,"o":-8.6e-10},{"t":60142.695,"o":-7.1e-10},{"t":60142.725,"o":-9.9e-10},{"t":60142.755,"o":-6.4e-10},{"t":60142.785,"o":-7.9e-10},
{"t":60142.815,"o":-5.6e-10},{"t":60142.845,"o":-7.5e-10},{"t":60142.875,"o":-5.2e-10},{"t":60142.905,"o":-8.3e-10},{"t":60142.935,"o":-6.8e-10},{"t":60142.965,"o":-9.5e-10},{"t":60142.995,"o":-7.3e-10},{"t":60143.025,"o":-8.8e-10},{"t":60143.055,"o":-6.3e-10},{"t":60143.085,"o":-7.8e-10},
{"t":60143.115,"o":-5.1e-10},{"t":60143.145,"o":-7.2e-10},{"t":60143.175,"o":-5.2e-10},{"t":60143.205,"o":-7.5e-10},{"t":60143.235,"o":-5.5e-10},{"t":60143.265,"o":-7.6e-10},{"t":60143.295,"o":-5.4e-10},{"t":60143.325,"o":-6.9e-10},{"t":60143.355,"o":-5.1e-10},{"t":60143.385,"o":-11.5e-10},
{"t":60143.415,"o":-8.9e-10},{"t":60143.445,"o":-10.4e-10},{"t":60143.475,"o":-7.2e-10},{"t":60143.505,"o":-8.7e-10},{"t":60143.535,"o":-6.9e-10},{"t":60143.565,"o":-11.5e-10},{"t":60143.595,"o":-4.8e-10},{"t":60143.625,"o":-6.9e-10},{"t":60143.655,"o":-5e-10},{"t":60143.685,"o":-6.9e-10},
{"t":60143.715,"o":-5.4e-10},{"t":60143.745,"o":-7.5e-10},{"t":60143.775,"o":-5.2e-10},{"t":60143.805,"o":-7.2e-10},{"t":60143.835,"o":-5.1e-10},{"t":60143.865,"o":-7.3e-10},{"t":60143.895,"o":-5.2e-10},{"t":60143.925,"o":-8.8e-10},{"t":60143.955,"o":-7.3e-10},{"t":60143.985,"o":-10.6e-10},
{"t":60144.015,"o":-8e-10},{"t":60144.045,"o":-9.5e-10},{"t":60144.075,"o":-5.2e-10},{"t":60144.105,"o":-7.4e-10},{"t":60144.135,"o":-5.6e-10},{"t":60144.165,"o":-7.7e-10},{"t":60144.195,"o":-5.4e-10},{"t":60144.225,"o":-6.9e-10},{"t":60144.255,"o":-5.2e-10},{"t":60144.285,"o":-7.3e-10},
{"t":60144.315,"o":-5.1e-10},{"t":60144.345,"o":-7.5e-10},{"t":60144.375,"o":-6e-10},{"t":60144.405,"o":-11.5e-10},{"t":60144.435,"o":-8.6e-10},{"t":60144.465,"o":-10.1e-10},{"t":60144.495,"o":-6.4e-10},{"t":60144.525,"o":-8.5e-10},{"t":60144.555,"o":-7e-10},{"t":60144.585,"o":-10.9e-10},
{"t":60144.615,"o":-4.8e-10},{"t":60144.645,"o":-6.7e-10},{"t":60144.675,"o":-5.2e-10},{"t":60144.705,"o":-7.2e-10},{"t":60144.735,"o":-5.1e-10},{"t":60144.765,"o":-7.3e-10},{"t":60144.795,"o":-5.3e-10},{"t":60144.825,"o":-6.9e-10},{"t":60144.855,"o":-5.4e-10},{"t":60144.885,"o":-8.3e-10},
{"t":60144.915,"o":-6.8e-10},{"t":60144.945,"o":-9.9e-10},{"t":60144.975,"o":-8.4e-10},{"t":60145.005,"o":-11.5e-10},{"t":60145.035,"o":-6.4e-10},{"t":60145.065,"o":-7.9e-10},{"t":60145.095,"o":-5.4e-10},{"t":60145.125,"o":-7.3e-10},{"t":60145.155,"o":-5.2e-10},{"t":60145.185,"o":-7.5e-10},
{"t":60145.215,"o":-5.2e-10},{"t":60145.245,"o":-7.7e-10},{"t":60145.275,"o":-5.4e-10},{"t":60145.305,"o":-7.5e-10},{"t":60145.335,"o":-5.9e-10},{"t":60145.365,"o":-9.7e-10},{"t":60145.395,"o":-8.2e-10},{"t":60145.425,"o":-11.5e-10},{"t":60145.455,"o":-7.8e-10},{"t":60145.485,"o":-9.3e-10},
{"t":60145.515,"o":-7.3e-10},{"t":60145.545,"o":-11.5e-10},{"t":60145.575,"o":-6.8e-10},{"t":60145.605,"o":-8.3e-10},{"t":60145.635,"o":-4.8e-10},{"t":60145.665,"o":-10.8e-10},{"t":60145.695,"o":-6.4e-10},{"t":60145.725,"o":-7.9e-10},{"t":60145.755,"o":-5.4e-10},{"t":60145.785,"o":-7.4e-10},
{"t":60145.815,"o":-5.9e-10},{"t":60145.845,"o":-10.6e-10},{"t":60145.875,"o":-6.6e-10},{"t":60145.905,"o":-8.1e-10},{"t":60145.935,"o":-6e-10},{"t":60145.965,"o":-9.3e-10},{"t":60145.995,"o":-7.8e-10},{"t":60146.025,"o":-11.5e-10},{"t":60146.055,"o":-6e-10},{"t":60146.085,"o":-7.5e-10},
{"t":60146.115,"o":-5.2e-10},{"t":60146.145,"o":-7.3e-10},{"t":60146.175,"o":-5.2e-10},{"t":60146.205,"o":-7.4e-10},{"t":60146.235,"o":-4.9e-10},{"t":60146.265,"o":-7e-10},{"t":60146.295,"o":-5.1e-10},{"t":60146.325,"o":-6.7e-10},{"t":60146.355,"o":-5.2e-10},{"t":60146.385,"o":-11.1e-10},
{"t":60146.415,"o":-8.6e-10},{"t":60146.445,"o":-10.1e-10},{"t":60146.475,"o":-7.9e-10},{"t":60146.505,"o":-11.5e-10},{"t":60146.535,"o":-7.4e-10},{"t":60146.565,"o":-8.9e-10},{"t":60146.595,"o":-4.8e-10},{"t":60146.625,"o":-7.5e-10},{"t":60146.655,"o":-6e-10},{"t":60146.685,"o":-11.5e-10},
{"t":60146.715,"o":-6.6e-10},{"t":60146.745,"o":-8.1e-10},{"t":60146.775,"o":-5.2e-10},{"t":60146.805,"o":-7.3e-10},{"t":60146.835,"o":-5.4e-10},{"t":60146.865,"o":-7.7e-10},{"t":60146.895,"o":-5.6e-10},{"t":60146.925,"o":-8.3e-10},{"t":60146.955,"o":-6.8e-10},{"t":60146.985,"o":-10.8e-10},
{"t":60147.015,"o":-7.2e-10},{"t":60147.045,"o":-8.7e-10},{"t":60147.075,"o":-6e-10},{"t":60147.105,"o":-7.5e-10},{"t":60147.135,"o":-5.1e-10},{"t":60147.165,"o":-7.2e-10},{"t":60147.195,"o":-5.4e-10},{"t":60147.225,"o":-6.9e-10},{"t":60147.255,"o":-5.2e-10},{"t":60147.285,"o":-7.3e-10},
{"t":60147.315,"o":-5.6e-10},{"t":60147.345,"o":-7.9e-10},{"t":60147.375,"o":-6.4e-10},{"t":60147.405,"o":-11.6e-10},{"t":60147.435,"o":-9e-10},{"t":60147.465,"o":-10.5e-10},{"t":60147.495,"o":-7.6e-10},{"t":60147.525,"o":-9.7e-10},{"t":60147.555,"o":-8.2e-10},{"t":60147.585,"o":-10.8e-10},
{"t":60147.615,"o":-4.8e-10},{"t":60147.645,"o":-7.1e-10},{"t":60147.675,"o":-5.6e-10},{"t":60147.705,"o":-8.8e-10},{"t":60147.735,"o":-5.4e-10},{"t":60147.765,"o":-6.9e-10},{"t":60147.795,"o":-5.2e-10},{"t":60147.825,"o":-7.2e-10},{"t":60147.855,"o":-5.4e-10},{"t":60147.885,"o":-7.5e-10},
{"t":60147.915,"o":-5.8e-10},{"t":60147.945,"o":-8.1e-10},{"t":60147.975,"o":-6.6e-10},{"t":60148.005,"o":-9.7e-10},{"t":60148.035,"o":-8.2e-10},{"t":60148.065,"o":-10.4e-10},{"t":60148.095,"o":-6.2e-10},{"t":60148.125,"o":-7.7e-10},{"t":60148.155,"o":-5.4e-10},{"t":60148.185,"o":-7.2e-10},
{"t":60148.215,"o":-5.1e-10},{"t":60148.245,"o":-6.9e-10},{"t":60148.275,"o":-5.4e-10},{"t":60148.305,"o":-7.5e-10},{"t":60148.335,"o":-5.7e-10},{"t":60148.365,"o":-8.5e-10},{"t":60148.395,"o":-7e-10},{"t":60148.425,"o":-11.5e-10},{"t":60148.455,"o":-7.8e-10},{"t":60148.485,"o":-9.3e-10},
{"t":60148.515,"o":-7.3e-10},{"t":60148.545,"o":-10.1e-10},{"t":60148.575,"o":-8.6e-10},{"t":60148.605,"o":-10.8e-10},{"t":60148.635,"o":-4.8e-10},{"t":60148.665,"o":-6.9e-10},{"t":60148.695,"o":-5.4e-10},{"t":60148.725,"o":-7.5e-10},{"t":60148.755,"o":-5.7e-10},{"t":60148.785,"o":-7.6e-10},
{"t":60148.815,"o":-5.5e-10},{"t":60148.845,"o":-8.1e-10},{"t":60148.875,"o":-6e-10},{"t":60148.905,"o":-7.5e-10},{"t":60148.935,"o":-5.2e-10},{"t":60148.965,"o":-11.1e-10},{"t":60148.995,"o":-8.2e-10},{"t":60149.025,"o":-9.7e-10},{"t":60149.055,"o":-6.6e-10},{"t":60149.085,"o":-8.1e-10},
{"t":60149.115,"o":-5.2e-10},{"t":60149.145,"o":-6.7e-10},{"t":60149.175,"o":-4.8e-10},{"t":60149.205,"o":-7.5e-10},{"t":60149.235,"o":-6e-10},{"t":60149.265,"o":-8.8e-10},{"t":60149.295,"o":-5.8e-10},{"t":60149.325,"o":-7.3e-10},{"t":60149.355,"o":-5.2e-10},{"t":60149.385,"o":-10.8e-10},
{"t":60149.415,"o":-6.6e-10},{"t":60149.445,"o":-8.1e-10},{"t":60149.475,"o":-5.2e-10},{"t":60149.505,"o":-8.5e-10},{"t":60149.535,"o":-7e-10},{"t":60149.565,"o":-10.4e-10},{"t":60149.595,"o":-4.8e-10},{"t":60149.625,"o":-8.4e-10},{"t":60149.655,"o":-6.9e-10},{"t":60149.685,"o":-9.5e-10},
{"t":60149.715,"o":-6e-10},{"t":60149.745,"o":-7.9e-10},{"t":60149.775,"o":-6.4e-10},{"t":60149.805,"o":-8.8e-10},{"t":60149.835,"o":-4.8e-10},{"t":60149.865,"o":-7.5e-10},{"t":60149.895,"o":-6e-10},{"t":60149.925,"o":-11.5e-10},{"t":60149.955,"o":-8e-10},{"t":60149.985,"o":-9.5e-10}
],
"topTri":[{"i":0,"t":60075.122,"v":-12.02e-10},{"i":1,"t":60075.349,"v":-1.93e-10},{"i":2,"t":60075.59,"v":-12.02e-10},{"i":3,"t":60075.122,"v":-12.02e-10}],
"topArrow":[{"i":0,"t":60075.475,"v":-6.43e-10},{"i":1,"t":60075.821,"v":-6.43e-10},{"i":2,"t":60075.889,"v":-6.2e-10},{"i":3,"t":60075.937,"v":-5.51e-10},{"i":4,"t":60075.954,"v":-4.41e-10},{"i":5,"t":60075.954,"v":-2.62e-10}],
"topHead":[{"t":60075.954,"v":-1.93e-10}],
"topText":[{"t":60075.832,"v":0.96e-10,"label":"~1ns"}],
"botTri":[{"i":0,"t":60144.65,"v":-11.29e-10},{"i":1,"t":60145.042,"v":-5.6e-10},{"i":2,"t":60145.434,"v":-11.29e-10},{"i":3,"t":60144.65,"v":-11.29e-10}],
"botArrow":[{"i":0,"t":60145.251,"v":-6.78e-10},{"i":1,"t":60145.404,"v":-6.78e-10},{"i":2,"t":60145.445,"v":-6.68e-10},{"i":3,"t":60145.468,"v":-6.45e-10},{"i":4,"t":60145.468,"v":-5.55e-10}],
"botHead":[{"t":60145.468,"v":-5.28e-10}],
"botText":[{"t":60145.291,"v":-4.53e-10,"label":"0.5~0.6ns"}]
},
"vconcat":[
{
"width":835,"height":363,
"title":{"text":"UTC(TL)-UTC(KRISS)","fontSize":29,"fontWeight":"normal","color":"#595959","font":"Liberation Sans","anchor":"middle","frame":"group","offset":22,"dx":3},
"layer":[
{"data":{"name":"top"},"mark":{"type":"line","color":"#ED7D31","strokeWidth":1.1},
"encoding":{
"x":{"field":"t","type":"quantitative","scale":{"domain":[60073,60078],"range":[99,835],"nice":false,"zero":false},
"axis":{"values":[60073,60074,60075,60076,60077,60078],"format":"d","labelAngle":-45,"labelFontSize":17,"labelColor":"#595959","grid":true,"gridColor":"#1a1a1a","gridWidth":1.5,"domain":false,"ticks":false,"labelPadding":20,"labelOffset":6,"title":"MJD","titleFontSize":20,"titleColor":"#595959","titleFontWeight":"normal","titlePadding":10}},
"y":{"field":"v","type":"quantitative","scale":{"domain":[-2e-9,3e-9],"nice":false,"zero":false},
"axis":{"values":[-2e-9,-1e-9,0,1e-9,2e-9,3e-9],"labelExpr":"datum.value == 0 ? '0.00E+00' : (datum.value < 0 ? '-' : '') + format(abs(datum.value) * 1e9, '.2f') + 'E-09'","offset":-99,"labelFontSize":16,"labelColor":"#595959","labelPadding":17,"grid":true,"gridColor":"#1a1a1a","gridWidth":1.5,"domain":false,"ticks":false,"title":"Time difference [s]","titleFontSize":21,"titleColor":"#595959","titleFontWeight":"normal","titlePadding":11}}
}},
{"data":{"name":"topTri"},"mark":{"type":"line","color":"#FF0000","strokeWidth":2.5,"strokeJoin":"miter"},
"encoding":{"x":{"field":"t","type":"quantitative"},"y":{"field":"v","type":"quantitative"},"order":{"field":"i","type":"quantitative"}}},
{"data":{"name":"topArrow"},"mark":{"type":"line","color":"#FF0000","strokeWidth":10,"strokeJoin":"round","strokeCap":"butt","interpolate":"monotone"},
"encoding":{"x":{"field":"t","type":"quantitative"},"y":{"field":"v","type":"quantitative"},"order":{"field":"i","type":"quantitative"}}},
{"data":{"name":"topHead"},"mark":{"type":"point","shape":"M-1,0.5L0,-0.5L1,0.5Z","filled":true,"color":"#FF0000","opacity":1,"size":625,"strokeWidth":0},
"encoding":{"x":{"field":"t","type":"quantitative"},"y":{"field":"v","type":"quantitative"}}},
{"data":{"name":"topText"},"mark":{"type":"text","color":"#FF0000","fontSize":31,"fontWeight":"bold","align":"left","baseline":"alphabetic","font":"Liberation Sans"},
"encoding":{"x":{"field":"t","type":"quantitative"},"y":{"field":"v","type":"quantitative"},"text":{"field":"label"}}}
]
},
{
"width":982,"height":365,
"layer":[
{"data":{"name":"bottom"},"mark":{"type":"line","color":"#ED7D31","strokeWidth":2.6},
"encoding":{
"x":{"field":"t","type":"quantitative","scale":{"domain":[60141,60150],"nice":false,"zero":false},
"axis":{"values":[60141,60142,60143,60144,60145,60146,60147,60148,60149,60150],"format":"d","labelAngle":-45,"labelFontSize":15,"labelColor":"#595959","grid":true,"gridColor":"#D9D9D9","gridWidth":1,"domain":false,"ticks":false,"labelPadding":8,"labelOffset":{"condition":{"test":"datum.value == 60150","value":-7},"value":1.5},"title":"MJD","titleFontSize":19,"titleColor":"#595959","titleFontWeight":"bold","titlePadding":12}},
"y":{"field":"o","type":"quantitative","title":"Time difference(s)","scale":{"domain":[-1.5e-9,0],"nice":false,"zero":false},
"axis":{"values":[0,-5e-10,-1e-9,-1.5e-9],"labelExpr":"datum.value == 0 ? '0.00E+00' : (datum.value > -1e-9 ? '-' + format(abs(datum.value) * 1e10, '.2f') + 'E-10' : '-' + format(abs(datum.value) * 1e9, '.2f') + 'E-09')","labelFontSize":14,"labelColor":"#595959","labelPadding":16,"grid":true,"gridColor":"#D9D9D9","gridWidth":1,"domain":false,"ticks":false,"titleFontSize":16,"titleColor":"#595959","titleFontWeight":"bold","titlePadding":4}}
}},
{"data":{"name":"bottom"},"transform":[{"filter":"datum.d != null"}],"mark":{"type":"line","color":"#000000","strokeWidth":1.3,"strokeDash":[1.5,1.5]},
"encoding":{"x":{"field":"t","type":"quantitative"},"y":{"field":"d","type":"quantitative","title":"Time difference(s)"}}},
{"data":{"name":"botTri"},"mark":{"type":"line","color":"#FF0000","strokeWidth":2.5,"strokeJoin":"miter"},
"encoding":{"x":{"field":"t","type":"quantitative"},"y":{"field":"v","type":"quantitative","title":"Time difference(s)"},"order":{"field":"i","type":"quantitative"}}},
{"data":{"name":"botArrow"},"mark":{"type":"line","color":"#FF0000","strokeWidth":8,"strokeJoin":"round","strokeCap":"butt","interpolate":"monotone"},
"encoding":{"x":{"field":"t","type":"quantitative"},"y":{"field":"v","type":"quantitative","title":"Time difference(s)"},"order":{"field":"i","type":"quantitative"}}},
{"data":{"name":"botHead"},"mark":{"type":"point","shape":"M-1,0.83L0,-0.83L1,0.83Z","filled":true,"color":"#FF0000","opacity":1,"size":225,"strokeWidth":0},
"encoding":{"x":{"field":"t","type":"quantitative"},"y":{"field":"v","type":"quantitative","title":"Time difference(s)"}}},
{"data":{"name":"botText"},"mark":{"type":"text","color":"#FF0000","fontSize":32,"fontWeight":"bold","align":"left","baseline":"alphabetic","font":"Liberation Sans"},
"encoding":{"x":{"field":"t","type":"quantitative"},"y":{"field":"v","type":"quantitative","title":"Time difference(s)"},"text":{"field":"label"}}}
]
}
]
}
